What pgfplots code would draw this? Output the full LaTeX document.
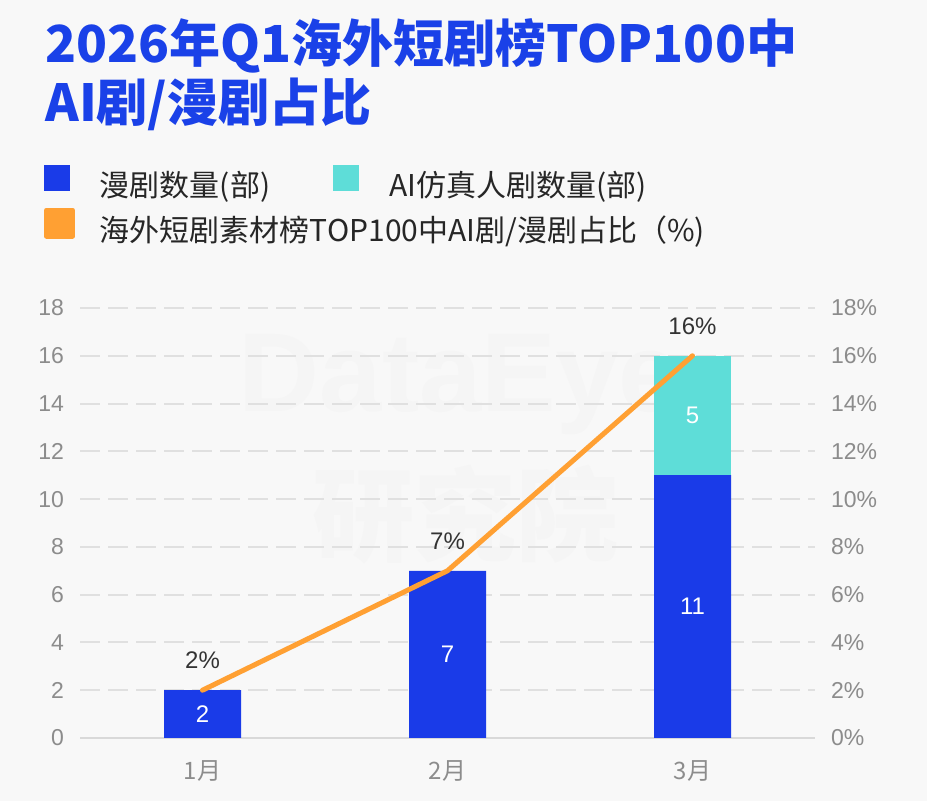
\documentclass[border=0pt]{standalone}
\usepackage{fontspec}
\usepackage{pgfplots}
\pgfplotsset{compat=1.18}
\setmainfont{Liberation Sans}
\newfontfamily\cjk{Noto Sans CJK SC}
\definecolor{bg}{HTML}{F8F8F8}
\definecolor{titleblue}{HTML}{1A41E8}
\definecolor{barblue}{HTML}{1A3BE8}
\definecolor{tealc}{HTML}{5EDDD8}
\definecolor{orangec}{HTML}{FFA033}
\definecolor{tickgray}{HTML}{8C8C8C}
\definecolor{gridgray}{HTML}{E0E0E0}
\definecolor{labeldark}{HTML}{333333}
\begin{document}
\begin{tikzpicture}[x=1pt,y=1pt]
\fill[bg] (0,0) rectangle (463.5,400.5);
% watermark
\node[text=black!4, font=\bfseries\fontsize{56pt}{60pt}\selectfont] at (230,208) {DataEye};
\node[text=black!4, font=\cjk\bfseries\fontsize{51pt}{55pt}\selectfont] at (232.5,143) {研究院};
% title
\node[anchor=base west, inner sep=0pt, text=titleblue, font=\cjk\bfseries\fontsize{25.5pt}{30pt}\selectfont] at (22.5,369) {2026年Q1海外短剧榜TOP100中};
\node[anchor=base west, inner sep=0pt, text=titleblue, font=\cjk\bfseries\fontsize{25.5pt}{30pt}\selectfont] at (22.5,339.5) {AI剧/漫剧占比};

\begin{axis}[
  at={(40pt,31.5pt)}, anchor=south west, scale only axis,
  width=367.5pt, height=215pt,
  xmin=-0.5, xmax=2.5, ymin=0, ymax=18,
  ybar stacked, bar width=38.5pt,
  xtick={0,1,2}, xticklabels={1月,2月,3月},
  ytick={0,2,...,18},
  axis x line*=bottom, axis y line*=left,
  y axis line style={draw=none},
  x axis line style={draw=black!15, line width=1pt, -},
  major tick length=0pt,
  ymajorgrids, grid style={gridgray, line width=1pt, dash pattern=on 10pt off 4pt},
  /pgf/number format/assume math mode=true,
  yticklabel style={font=\fontsize{11.5pt}{13pt}\selectfont, text=tickgray, xshift=-4.5pt},
  xticklabel style={font=\cjk\fontsize{12pt}{14pt}\selectfont, text=tickgray, yshift=-8pt},
  legend columns=2,
  legend image code/.code={\fill[#1] (0pt,-3pt) rectangle (13pt,10pt);},
  legend style={draw=none, fill=none, at={(-0.049,1.293)}, anchor=west,
    inner sep=0pt, outer sep=0pt,
    nodes={inner sep=0pt, font=\cjk\fontsize{15pt}{17pt}\selectfont, text=black!85},
    /tikz/every odd column/.append style={column sep=15pt},
    /tikz/every even column/.append style={column sep=31.5pt}},
]
\addplot[fill=barblue, draw=none] coordinates {(0,2) (1,7) (2,11)};
\addlegendentry{漫剧数量(部)}
\addplot[fill=tealc, draw=none] coordinates {(0,0) (1,0) (2,5)};
\addlegendentry{AI仿真人剧数量(部)}
\end{axis}

\begin{axis}[
  at={(40pt,31.5pt)}, anchor=south west, scale only axis,
  width=367.5pt, height=215pt,
  xmin=-0.5, xmax=2.5, ymin=0, ymax=18,
  ytick={0,2,...,18},
  hide x axis,
  axis y line*=right,
  y axis line style={draw=none},
  major tick length=0pt,
  clip=false,
  /pgf/number format/assume math mode=true,
  yticklabel={\pgfmathprintnumber{\tick}\%},
  yticklabel style={font=\fontsize{11.5pt}{13pt}\selectfont, text=tickgray, xshift=4.5pt},
  legend image code/.code={\fill[orangec] (0pt,-3pt) rectangle (13pt,10pt);},
  legend style={draw=none, fill=none, at={(-0.049,1.1907)}, anchor=west,
    inner sep=0pt, outer sep=0pt,
    nodes={inner sep=0pt, font=\cjk\fontsize{15pt}{17pt}\selectfont, text=black!85},
    /tikz/every odd column/.append style={column sep=12.5pt}},
]
\addplot[draw=none, mark=none, forget plot, nodes near coords, point meta=explicit symbolic,
  every node near coord/.style={anchor=center, text=white, font=\fontsize{12pt}{14pt}\selectfont}]
  coordinates {(0,1)[2] (1,3.5)[7] (2,5.5)[11] (2,13.5)[5]};
\addplot[orangec, line width=2.5pt, line cap=round, line join=round, mark=none,
  nodes near coords, point meta=explicit symbolic,
  every node near coord/.style={anchor=south, yshift=6pt, text=labeldark, font=\fontsize{12pt}{14pt}\selectfont}]
  coordinates {(0,2)[2\%] (1,7)[7\%] (2,16)[16\%]};
\addlegendentry{海外短剧素材榜TOP100中AI剧/漫剧占比（\%)}
\end{axis}
\end{tikzpicture}
\end{document}
